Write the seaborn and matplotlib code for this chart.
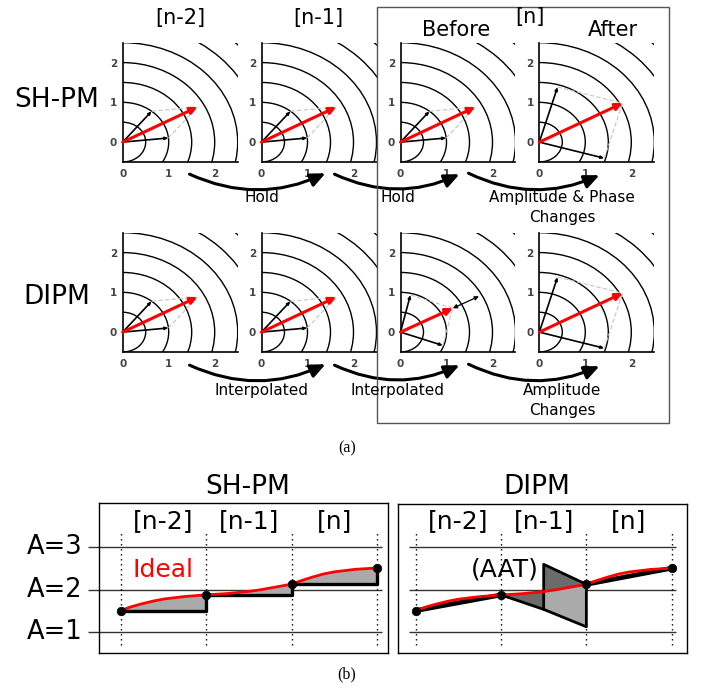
import numpy as np
import pandas as pd
import matplotlib
matplotlib.use("Agg")
import matplotlib.pyplot as plt
import seaborn as sns
from matplotlib.patches import Arc, FancyArrowPatch, Rectangle

# ---- phasor panels: two component vectors per frame (amplitude, angle in degrees)
col_labels = ["[n-2]", "[n-1]", "Before", "After"]
row_labels = ["SH-PM", "DIPM"]
sh_amp = [[1.0, 1.0], [1.0, 1.0], [1.0, 1.0], [1.44, 1.47]]
sh_ang = [[51, 6], [51, 6], [51, 6], [74, -16]]
dipm_amp = [[1.0, 1.0], [1.0, 1.0], [0.96, 0.98], [1.44, 1.47]]
dipm_ang = [[51, 6], [51, 6], [77, -20], [74, -16]]
dipm_gain = 1.5
ring_radii = [0.5, 1.0, 1.5, 2.0, 2.5, 3.0, 3.5]
axis_ticks = [0, 1, 2]
transition_labels = [["Hold", "Hold", "Amplitude & Phase\nChanges"],
                     ["Interpolated", "Interpolated", "Amplitude\nChanges"]]

# ---- amplitude trajectories
frame_t = [0, 1, 2, 3]
frame_amp = [1.51, 1.88, 2.13, 2.51]
ideal_t = [0, 0.125, 0.25, 0.375, 0.5, 0.625, 0.75, 0.875, 1.0, 1.25, 1.5, 1.625,
           1.75, 1.875, 2.0, 2.125, 2.25, 2.375, 2.5, 2.75, 3.0]
ideal_amp = [1.51, 1.60, 1.67, 1.73, 1.78, 1.81, 1.84, 1.86, 1.88, 1.91, 1.96, 1.995,
             2.04, 2.085, 2.13, 2.22, 2.30, 2.37, 2.42, 2.48, 2.51]
frame_labels = ["[n-2]", "[n-1]", "[n]"]
levels = [1, 2, 3]
level_labels = ["A=1", "A=2", "A=3"]
aat_t = [1.0, 1.5, 2.0]
aat_lower = [1.88, 1.54, 1.13]
aat_upper = [2.60, 2.13]  # at t = 1.5 and t = 2.0

sns.set_style("white")
plt.rcParams["font.family"] = ["DejaVu Sans"]
plt.rcParams["text.color"] = "black"

W, H = 707, 691
fig = plt.figure(figsize=(W / 100, H / 100), dpi=100)


def box(left, top, width, height):
    return [left / W, 1 - (top + height) / H, width / W, height / H]


def fx(x):
    return x / W


def fy(y):
    return 1 - y / H


def phasor_panel(ax, amps, angs, gain=None):
    ax.set_xlim(0, 2.5)
    ax.set_ylim(-0.5, 2.5)
    for r in ring_radii:
        ax.add_patch(Arc((0, 0), 2 * r, 2 * r, theta1=-90, theta2=90,
                         color="black", lw=1.0))
    for s in ["top", "right"]:
        ax.spines[s].set_visible(False)
    for s in ["left", "bottom"]:
        ax.spines[s].set_linewidth(1.2)
        ax.spines[s].set_color("black")
    ax.set_xticks(axis_ticks)
    ax.set_yticks(axis_ticks)
    ax.tick_params(length=0, labelsize=7.5, labelcolor="#444")
    ax.tick_params(axis="x", pad=5)
    ax.tick_params(axis="y", pad=4)
    for lab in ax.get_xticklabels() + ax.get_yticklabels():
        lab.set_fontweight("bold")
    tips = [(a * np.cos(np.radians(t)), a * np.sin(np.radians(t)))
            for a, t in zip(amps, angs)]
    total = (sum(p[0] for p in tips), sum(p[1] for p in tips))
    for p in tips:
        ax.plot([p[0], total[0]], [p[1], total[1]], color="#c4c4c4",
                lw=0.8, ls=(0, (4, 2)))
        ax.annotate("", xy=p, xytext=(0, 0),
                    arrowprops=dict(arrowstyle="-|>,head_length=0.35,head_width=0.15",
                                    color="black", lw=1.2, shrinkA=0, shrinkB=0,
                                    mutation_scale=5))
    ax.annotate("", xy=total, xytext=(0, 0),
                arrowprops=dict(arrowstyle="-|>,head_length=0.5,head_width=0.25",
                                color="red", lw=2.2, shrinkA=0, shrinkB=0,
                                mutation_scale=8))
    if gain is not None:
        ax.annotate("", xy=(total[0] * gain, total[1] * gain), xytext=total,
                    arrowprops=dict(arrowstyle="<|-|>,head_length=0.4,head_width=0.2",
                                    color="black", lw=0.9, shrinkA=0, shrinkB=0,
                                    mutation_scale=6))


panel_left = [122.7, 261.5, 400.5, 539.3]
panel_top = [42.7, 232.7]
for r, (amps, angs) in enumerate([(sh_amp, sh_ang), (dipm_amp, dipm_ang)]):
    for c in range(4):
        ax = fig.add_axes(box(panel_left[c], panel_top[r], 115, 119.3))
        gain = dipm_gain if (r == 1 and c == 2) else None
        phasor_panel(ax, amps[c], angs[c], gain)

# column and row headings
col_header_x = [180, 318, 456, 613]
col_header_y = [18, 18, 30, 30]
for lbl, x, y in zip(col_labels, col_header_x, col_header_y):
    fig.text(fx(x), fy(y), lbl, ha="center", va="center", fontsize=15)
fig.text(fx(530), fy(17), "[n]", ha="center", va="center", fontsize=15)
for lbl, y in zip(row_labels, [100, 297]):
    fig.text(fx(57), fy(y), lbl, ha="center", va="center", fontsize=19)

# transitions between frames
arrow_spans = [((187, 173), (328, 172)), ((332, 173), (462, 173)), ((466, 172), (602, 174))]
label_x = [262, 398, 562]
label_y = [197, 391]
row_shift = [0, 191]
for r in range(2):
    for k, ((x0, y0), (x1, y1)) in enumerate(arrow_spans):
        arr = FancyArrowPatch((fx(x0), fy(y0 + row_shift[r])), (fx(x1), fy(y1 + row_shift[r])),
                              transform=fig.transFigure,
                              connectionstyle="arc3,rad=0.24",
                              arrowstyle="-|>,head_length=0.9,head_width=0.4",
                              mutation_scale=10, lw=2.2, color="black")
        fig.add_artist(arr)
        for j, line in enumerate(transition_labels[r][k].split("\n")):
            fig.text(fx(label_x[k]), fy(label_y[r] + 20 * j), line,
                     ha="center", va="center", fontsize=11)

fig.add_artist(Rectangle((fx(377.3), fy(422.7)), (669 - 377.3) / W, (422.7 - 7) / H,
                         transform=fig.transFigure, fill=False, ec="#555", lw=1.0))

serif = ["Liberation Serif", "DejaVu Serif"]
fig.text(fx(347), fy(448), "(a)", ha="center", va="center", fontsize=11.5, family=serif)
fig.text(fx(347), fy(674), "(b)", ha="center", va="center", fontsize=11.5, family=serif)

# ---- amplitude trajectory panels
df_ideal = pd.DataFrame({"t": ideal_t, "amp": ideal_amp})
df_frames = pd.DataFrame({"t": frame_t, "amp": frame_amp})


def trajectory_axes(rect, xlim, hline_span):
    ax = fig.add_axes(rect)
    ax.set_xlim(*xlim)
    ax.set_ylim(0.513, 4.03)
    for s in ax.spines.values():
        s.set_linewidth(1.0)
        s.set_color("black")
    ax.hlines(levels, hline_span[0], hline_span[1], color="#333", lw=1.0,
              clip_on=False, zorder=1)
    ax.vlines(frame_t, 0.70, 3.41, color="black", lw=1.0,
              linestyles=(0, (1, 2.6)), zorder=1)
    for i, lbl in enumerate(frame_labels):
        ax.text(i + 0.5, 3.62, lbl, ha="center", va="center", fontsize=18)
    return ax


ax_sh = trajectory_axes(box(99.3, 503.3, 288.4, 149.7), (-0.25, 3.125), (-0.38, 3.06))
ax_dp = trajectory_axes(box(398.3, 503.6, 288.4, 149.4), (-0.204, 3.176), (-0.08, 3.05))
fig.text(fx(248), fy(487), "SH-PM", ha="center", va="center", fontsize=19)
fig.text(fx(537), fy(487), "DIPM", ha="center", va="center", fontsize=19)

for lvl, lbl in zip(levels, level_labels):
    ax_sh.text(-0.45, lvl, lbl, ha="right", va="center", fontsize=18.5, clip_on=False)

# sample-and-hold: gray gap between the ideal curve and the held level
for i in range(3):
    seg = df_ideal[(df_ideal.t >= frame_t[i]) & (df_ideal.t <= frame_t[i + 1])]
    ax_sh.fill_between(seg.t, frame_amp[i], seg.amp, color="#aaaaaa", lw=0, zorder=2)
sns.lineplot(data=df_frames, x="t", y="amp", drawstyle="steps-post", color="black",
             lw=2.4, ax=ax_sh, zorder=3)
sns.lineplot(data=df_ideal, x="t", y="amp", color="red", lw=2.0, ax=ax_sh, zorder=4,
             solid_joinstyle="round")
sns.scatterplot(data=df_frames, x="t", y="amp", color="black", s=38, ax=ax_sh,
                zorder=5, edgecolor="black")
ax_sh.text(0.49, 2.47, "Ideal", color="red", ha="center", va="center", fontsize=18)

# interpolated amplitude with the amplitude-adjust transition
for i in (0, 2):
    ax_dp.plot(frame_t[i:i + 2], frame_amp[i:i + 2], color="black", lw=3.4, zorder=3,
               solid_capstyle="round")
mid = df_ideal[(df_ideal.t >= aat_t[0]) & (df_ideal.t <= aat_t[1])]
ax_dp.fill(list(aat_t[:2]) + list(mid.t[::-1]),
           list(aat_lower[:2]) + list(mid.amp[::-1]), color="#6b6b6b", lw=0, zorder=2)
late = df_ideal[(df_ideal.t >= aat_t[1]) & (df_ideal.t <= aat_t[2])]
ax_dp.fill(list(aat_t[1:]) + list(late.t[::-1]),
           aat_upper + list(late.amp[::-1]), color="#6b6b6b", lw=0, zorder=2)
ax_dp.fill(list(late.t) + [aat_t[2], aat_t[1]],
           list(late.amp) + [aat_lower[2], aat_lower[1]], color="#aaaaaa", lw=0, zorder=2)
ax_dp.plot(aat_t + [aat_t[2]], aat_lower + [aat_upper[1]], color="black", lw=2.0,
           zorder=3)
ax_dp.plot([aat_t[1], aat_t[1], aat_t[2]], [aat_lower[1], aat_upper[0], aat_upper[1]],
           color="black", lw=2.0, zorder=3)
sns.lineplot(data=df_ideal, x="t", y="amp", color="red", lw=2.0, ax=ax_dp, zorder=4,
             solid_joinstyle="round")
sns.scatterplot(data=df_frames, x="t", y="amp", color="black", s=38, ax=ax_dp,
                zorder=5, edgecolor="black")
ax_dp.text(1.05, 2.47, "(AAT)", ha="center", va="center", fontsize=18)

for ax in (ax_sh, ax_dp):
    ax.set_xlabel("")
    ax.set_ylabel("")
    ax.set_xticks([])
    ax.set_yticks([])

fig.savefig("out.png", dpi=100)
